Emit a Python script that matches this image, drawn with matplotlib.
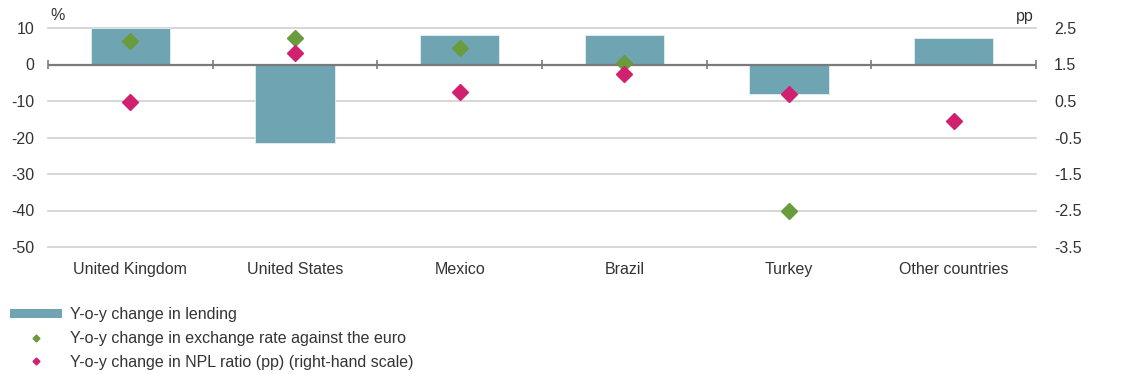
import numpy as np
import matplotlib as mpl
import matplotlib.pyplot as plt
from matplotlib.patches import Patch
from matplotlib.lines import Line2D

mpl.rcParams.update({
    "font.family": ["Liberation Sans", "DejaVu Sans"],
    "font.size": 11.5,
    "axes.unicode_minus": False,
    "text.color": "#333333",
    "xtick.color": "#333333",
    "ytick.color": "#333333",
})

# 数据
countries = ["United Kingdom", "United States", "Mexico", "Brazil", "Turkey", "Other countries"]
lending = [10.0, -21.6, 8.1, 8.1, -8.2, 7.3]            # %, 左轴
fx_rate = [6.4, 7.3, 4.5, 0.3, -40.0, np.nan]           # %, 左轴
npl = [0.46, 1.82, 0.74, 1.24, 0.68, -0.05]             # pp, 右轴

left_ticks = [10, 0, -10, -20, -30, -40, -50]
right_ticks = [2.5, 1.5, 0.5, -0.5, -1.5, -2.5, -3.5]

BAR_C = "#6fa4b2"
GREEN = "#6a9b3c"
PINK = "#d1206f"
GRID_C = "#cfcfcf"
AXIS_C = "#7a7a7a"
FS = 11.5

fig = plt.figure(figsize=(11.22, 3.74), dpi=100)
ax = fig.add_axes([48 / 1122, 1 - 247 / 374, (1036 - 48) / 1122, (247 - 28) / 374])
ax2 = ax.twinx()

x = np.arange(len(countries))

for t in left_ticks:
    if t != 0:
        ax.axhline(t, color=GRID_C, lw=1.2, zorder=0, clip_on=False)

ax.bar(x, lending, width=0.48, color=BAR_C, edgecolor="#e6eef0", linewidth=0.6, zorder=2)

# 零线及分类分隔刻度
ax.axhline(0, color=AXIS_C, lw=1.6, zorder=3)
ax.vlines(np.arange(-0.5, len(countries)), -1.1, 1.1, color=AXIS_C, lw=1.2, zorder=3, clip_on=False)

ax.plot(x, fx_rate, ls="none", marker="D", ms=8, color=GREEN, mec=GREEN, zorder=5)

ax.set_xlim(-0.5, len(countries) - 0.5)
ax.set_ylim(-50, 10)
ax.set_yticks(left_ticks)
ax.set_xticks(x)
ax.set_xticklabels(countries)
ax.tick_params(axis="both", length=0, labelsize=FS)
ax.tick_params(axis="x", pad=11)
ax.tick_params(axis="y", pad=10)

ax2.plot(x, npl, ls="none", marker="D", ms=8, color=PINK, mec=PINK, zorder=5)
ax2.set_ylim(-3.5, 2.5)
ax2.set_yticks(right_ticks)
ax2.set_yticklabels([f"{v:.1f}" for v in right_ticks])
ax2.tick_params(axis="y", length=0, labelsize=FS, pad=13)

for a in (ax, ax2):
    for s in a.spines.values():
        s.set_visible(False)

fig.text(50 / 1122, 1 - 16 / 374, "%", ha="left", va="center", fontsize=FS, color="#333333")
fig.text(1034 / 1122, 1 - 16 / 374, "pp", ha="right", va="center", fontsize=FS, color="#333333")

handles = [
    Patch(facecolor=BAR_C, edgecolor="none"),
    Line2D([], [], ls="none", marker="D", ms=3.5, color=GREEN),
    Line2D([], [], ls="none", marker="D", ms=3.5, color=PINK),
]
labels = [
    "Y-o-y change in lending",
    "Y-o-y change in exchange rate against the euro",
    "Y-o-y change in NPL ratio (pp) (right-hand scale)",
]
fig.legend(handles, labels, loc="upper left", bbox_to_anchor=(10 / 1122, 1 - 307 / 374),
           frameon=False, borderpad=0, borderaxespad=0, handlelength=3.25, handleheight=0.5,
           handletextpad=0.5, labelspacing=0.55, fontsize=FS)

fig.savefig("out.png", dpi=100)
